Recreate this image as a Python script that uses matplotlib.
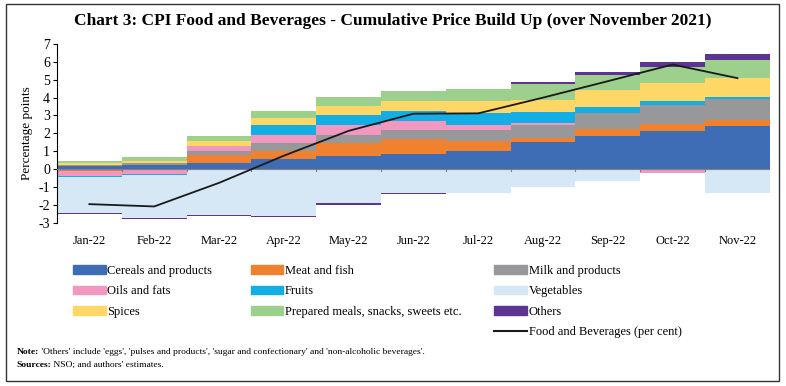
import numpy as np
import matplotlib
matplotlib.use('Agg')
import matplotlib.pyplot as plt
from matplotlib.patches import Patch, Rectangle
from matplotlib.lines import Line2D

plt.rcParams['font.family'] = ['Liberation Serif', 'DejaVu Serif']
plt.rcParams['axes.unicode_minus'] = False

# data (percentage points)
months = ['Jan-22', 'Feb-22', 'Mar-22', 'Apr-22', 'May-22', 'Jun-22',
          'Jul-22', 'Aug-22', 'Sep-22', 'Oct-22', 'Nov-22']
cereals = [0.15, 0.22, 0.36, 0.56, 0.71, 0.85, 1.00, 1.50, 1.88, 2.12, 2.39]
meat = [-0.13, 0.0, 0.41, 0.45, 0.75, 0.81, 0.56, 0.23, 0.37, 0.41, 0.36]
milk = [0.09, 0.10, 0.26, 0.43, 0.43, 0.55, 0.62, 0.71, 0.91, 1.03, 1.15]
oils = [-0.26, -0.27, 0.24, 0.45, 0.56, 0.49, 0.26, 0.15, -0.04, -0.19, -0.05]
fruits = [-0.06, -0.07, 0.03, 0.55, 0.55, 0.53, 0.68, 0.60, 0.32, 0.26, 0.15]
vegetables = [-1.99, -2.37, -2.55, -2.60, -1.92, -1.35, -1.35, -0.98, -0.62, 0.0, -1.26]
spices = [0.09, 0.15, 0.28, 0.41, 0.51, 0.56, 0.68, 0.68, 0.94, 1.02, 1.05]
prepared = [0.13, 0.18, 0.26, 0.39, 0.53, 0.58, 0.66, 0.92, 0.85, 0.90, 1.00]
others = [-0.06, -0.07, -0.07, -0.07, -0.07, -0.03, 0.05, 0.09, 0.16, 0.24, 0.34]
food_bev = [-1.96, -2.09, -0.77, 0.75, 2.14, 3.10, 3.12, 4.00, 4.92, 5.85, 5.09]

series = [
    ('Cereals and products', cereals, '#3F6DB5'),
    ('Meat and fish', meat, '#F0812F'),
    ('Milk and products', milk, '#98989A'),
    ('Oils and fats', oils, '#F297C0'),
    ('Fruits', fruits, '#13AEE3'),
    ('Vegetables', vegetables, '#D6E7F5'),
    ('Spices', spices, '#FED766'),
    ('Prepared meals, snacks, sweets etc.', prepared, '#9CD08C'),
    ('Others', others, '#5E3392'),
]

fig = plt.figure(figsize=(7.86, 3.86), dpi=100)
ax = fig.add_axes([0.0725, 0.423, 0.907, 0.463])

x = np.arange(len(months))
pos_bottom = np.zeros(len(months))
neg_bottom = np.zeros(len(months))
for name, vals, col in series:
    v = np.array(vals)
    bottom = np.where(v >= 0, pos_bottom, neg_bottom)
    ax.bar(x, v, width=1.0, bottom=bottom, color=col, linewidth=0)
    pos_bottom += np.where(v >= 0, v, 0)
    neg_bottom += np.where(v < 0, v, 0)

ax.plot(x, food_bev, color='#1a1a1a', lw=1.3, zorder=5)

# zero line with boundary ticks
ax.axhline(0, color='#7f7f7f', lw=0.8, zorder=4)
for b in np.arange(-0.5, len(months), 1.0)[1:]:
    ax.plot([b, b], [0, -0.12], color='#7f7f7f', lw=0.8, zorder=4)

ax.set_xlim(-0.5, len(months) - 0.5)
ax.set_ylim(-3, 7)
ax.set_yticks(range(-3, 8))
ax.set_xticks(x)
ax.set_xticklabels(months, fontsize=9)
ax.tick_params(axis='x', length=0, pad=9)
ax.tick_params(axis='y', labelsize=10, length=3, width=0.8, pad=2)
for s in ['top', 'right', 'bottom']:
    ax.spines[s].set_visible(False)
ax.spines['left'].set_linewidth(0.8)
ax.set_ylabel('Percentage points', fontsize=9.5, labelpad=4)

fig.text(0.5, 0.945, 'Chart 3: CPI Food and Beverages - Cumulative Price Build Up (over November 2021)',
         ha='center', va='center', fontsize=12.5, fontweight='bold')

# legend in three columns
handles = [Patch(color=col, label=name) for name, vals, col in series]
line_h = Line2D([], [], color='#1a1a1a', lw=1.5, label='Food and Beverages (per cent)')
cols = [
    ([handles[0], handles[3], handles[6]], 0.093),
    ([handles[1], handles[4], handles[7]], 0.319),
    ([handles[2], handles[5], handles[8], line_h], 0.629),
]
for hs, lx in cols:
    fig.legend(handles=hs, loc='upper left', bbox_to_anchor=(lx, 0.314),
               frameon=False, fontsize=9, borderpad=0, borderaxespad=0,
               handlelength=2.6, handleheight=0.65, handletextpad=0.15,
               labelspacing=0.68)

note = fig.text(0.021, 0.088, 'Note:', fontsize=6.8, fontweight='bold', va='center')
ax.annotate(" 'Others' include 'eggs', 'pulses and products', 'sugar and confectionary' and 'non-alcoholic beverages'.",
            xy=(1, 0), xycoords=note, va='bottom', ha='left', fontsize=6.8, annotation_clip=False)
src = fig.text(0.021, 0.054, 'Sources:', fontsize=6.8, fontweight='bold', va='center')
ax.annotate(" NSO; and authors' estimates.", xy=(1, 0), xycoords=src, va='bottom', ha='left',
            fontsize=6.8, annotation_clip=False)

fig.patches.append(Rectangle((0.008, 0.013), 0.983, 0.977, transform=fig.transFigure,
                             fill=False, edgecolor='#333333', lw=1.0))

fig.savefig('out.png', dpi=100)
